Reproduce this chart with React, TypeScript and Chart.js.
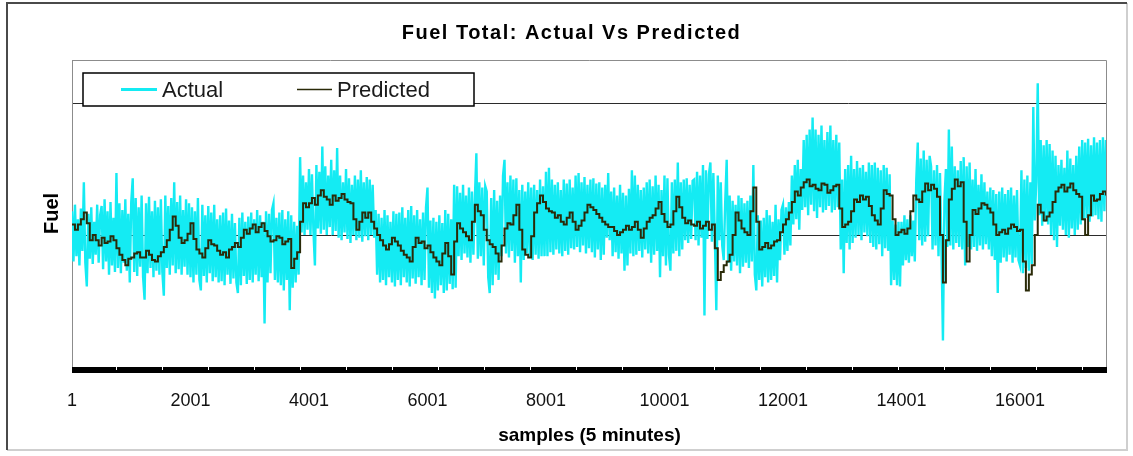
import React, { useEffect, useRef } from "react";
import { Chart, registerables } from "chart.js";

Chart.register(...registerables);

const TITLE = "Fuel Total: Actual Vs Predicted";
const X_TITLE = "samples (5 minutes)";
const Y_TITLE = "Fuel";
const SERIES_NAMES = ["Actual", "Predicted"];
const SAMPLE_COUNT = 17470;
const X_TICKS = [1, 2001, 4001, 6001, 8001, 10001, 12001, 14001, 16001];
const Y_GRID = [0, 100, 200];
const Y_MAX = 232.6;
const ACTUAL_STEP = 25;
const PREDICTED_STEP = 50;

const actualValues = [
  118, 80, 123, 84, 112, 77, 120, 88, 140, 79, 61, 116, 82, 121, 78, 110, 85, 123, 79, 115,
  122, 74, 127, 80, 118, 70, 125, 77, 113, 72, 147, 75, 124, 71, 119, 79, 127, 73, 116, 64,
  125, 143, 72, 128, 69, 121, 76, 130, 68, 51, 124, 71, 129, 75, 118, 68, 126, 73, 121, 70,
  127, 72, 54, 130, 75, 122, 70, 128, 77, 140, 71, 125, 74, 130, 70, 119, 76, 127, 70, 124,
  68, 121, 64, 118, 70, 128, 66, 58, 123, 69, 115, 64, 122, 71, 117, 65, 123, 68, 112, 64,
  115, 65, 117, 62, 120, 70, 111, 63, 116, 67, 109, 64, 56, 113, 62, 117, 69, 110, 63, 114,
  66, 117, 64, 112, 70, 119, 65, 115, 68, 110, 33, 118, 64, 116, 71, 119, 124, 66, 113, 64,
  117, 62, 119, 58, 112, 66, 118, 43, 115, 60, 110, 64, 107, 70, 159, 102, 145, 100, 140, 104,
  150, 100, 146, 103, 77, 153, 105, 148, 101, 167, 104, 152, 100, 145, 106, 157, 100, 149, 103, 166,
  98, 145, 96, 140, 102, 150, 97, 143, 94, 138, 100, 145, 96, 142, 98, 149, 95, 140, 99, 144,
  96, 142, 100, 138, 98, 119, 70, 116, 64, 113, 66, 119, 62, 115, 68, 110, 64, 118, 61, 116,
  66, 117, 62, 121, 68, 113, 64, 119, 61, 122, 67, 115, 63, 119, 68, 112, 62, 117, 66, 121,
  136, 60, 111, 56, 113, 52, 110, 58, 115, 62, 109, 56, 119, 58, 116, 63, 112, 59, 138, 60,
  137, 84, 132, 81, 138, 86, 130, 83, 136, 79, 133, 85, 128, 162, 82, 140, 84, 136, 77, 137,
  133, 68, 56, 128, 62, 134, 70, 126, 66, 130, 84, 145, 157, 86, 140, 83, 145, 88, 142, 79,
  143, 84, 134, 64, 138, 81, 133, 86, 140, 83, 136, 81, 138, 85, 134, 82, 142, 84, 137, 84,
  148, 84, 151, 87, 142, 85, 138, 89, 140, 86, 134, 84, 142, 88, 139, 85, 142, 90, 136, 89,
  145, 91, 147, 87, 140, 92, 144, 86, 138, 90, 142, 87, 143, 83, 139, 89, 140, 81, 136, 85,
  138, 98, 147, 96, 133, 84, 136, 87, 130, 82, 138, 86, 132, 73, 130, 77, 135, 86, 149, 84,
  145, 85, 138, 88, 134, 83, 136, 89, 140, 86, 142, 79, 137, 85, 145, 88, 138, 68, 134, 84,
  145, 77, 143, 85, 73, 140, 86, 142, 88, 155, 84, 140, 89, 142, 96, 143, 94, 138, 97, 141,
  142, 96, 148, 92, 145, 98, 153, 39, 149, 97, 146, 155, 95, 147, 99, 43, 145, 96, 140, 92,
  81, 125, 157, 79, 130, 73, 126, 80, 123, 77, 130, 71, 128, 76, 124, 79, 126, 75, 130, 80,
  153, 70, 58, 115, 66, 111, 61, 113, 68, 119, 64, 115, 66, 110, 69, 123, 64, 112, 81, 119,
  123, 85, 121, 88, 125, 92, 145, 108, 153, 112, 157, 104, 150, 119, 172, 121, 176, 115, 180, 123,
  189, 118, 180, 113, 176, 121, 183, 117, 172, 119, 178, 122, 183, 117, 172, 119, 176, 121, 170, 89,
  142, 71, 150, 94, 153, 89, 160, 94, 150, 98, 156, 100, 151, 96, 153, 102, 148, 99, 155, 94,
  153, 91, 155, 89, 151, 93, 149, 84, 153, 90, 151, 88, 146, 62, 111, 66, 108, 62, 110, 61,
  110, 77, 115, 81, 112, 79, 115, 84, 111, 80, 142, 170, 96, 158, 92, 164, 95, 157, 99, 160,
  152, 89, 149, 92, 153, 84, 147, 91, 20, 126, 150, 91, 180, 92, 167, 89, 152, 94, 149, 91,
  156, 89, 159, 77, 152, 91, 155, 89, 142, 91, 150, 88, 138, 92, 146, 89, 140, 93, 133, 89,
  136, 84, 134, 81, 131, 56, 133, 79, 136, 83, 131, 80, 134, 85, 136, 79, 130, 83, 134, 81,
  77, 149, 71, 142, 75, 145, 73, 140, 78, 197, 111, 140, 215, 115, 172, 107, 168, 110, 172, 108,
  169, 100, 164, 96, 160, 91, 153, 107, 157, 104, 151, 100, 164, 98, 158, 105, 153, 100, 160, 104,
  167, 108, 172, 111, 170, 113, 173, 110, 168, 114, 174, 115, 170, 112, 172, 110, 174, 118, 172, 127,
];

const predictedValues = [
  108, 104, 108, 112, 117, 109, 96, 100, 96, 92, 98, 94, 95, 99, 96, 90, 85, 81, 77, 82,
  83, 86, 87, 83, 83, 88, 85, 81, 80, 84, 87, 91, 96, 104, 114, 107, 98, 94, 96, 101,
  109, 97, 89, 86, 83, 90, 96, 93, 92, 88, 85, 87, 83, 89, 91, 94, 91, 98, 104, 101,
  105, 108, 102, 106, 109, 103, 99, 95, 96, 99, 98, 93, 95, 97, 75, 82, 87, 110, 124, 121,
  124, 128, 123, 130, 134, 129, 127, 123, 130, 126, 128, 131, 127, 125, 124, 112, 104, 110, 117, 113,
  117, 110, 105, 100, 96, 92, 89, 93, 98, 95, 92, 88, 85, 83, 80, 91, 98, 94, 95, 90,
  92, 87, 83, 80, 77, 86, 94, 84, 70, 95, 109, 105, 102, 99, 96, 110, 123, 118, 115, 104,
  96, 93, 91, 86, 80, 92, 105, 109, 108, 115, 123, 104, 89, 85, 83, 99, 117, 124, 130, 125,
  120, 118, 117, 113, 115, 110, 108, 113, 117, 110, 104, 107, 111, 117, 123, 121, 119, 116, 113, 110,
  108, 106, 106, 103, 100, 102, 104, 107, 104, 106, 110, 104, 98, 105, 110, 113, 115, 120, 125, 116,
  110, 106, 108, 118, 129, 121, 113, 109, 111, 108, 107, 110, 105, 107, 110, 104, 108, 90, 66, 72,
  77, 80, 85, 100, 117, 111, 105, 102, 100, 118, 136, 110, 89, 91, 94, 90, 92, 95, 96, 102,
  108, 112, 117, 125, 133, 130, 136, 140, 142, 137, 138, 135, 134, 139, 138, 132, 134, 137, 138, 120,
  106, 108, 110, 118, 127, 125, 130, 127, 129, 122, 115, 111, 108, 120, 134, 131, 130, 112, 100, 102,
  104, 101, 105, 118, 130, 127, 125, 133, 139, 134, 138, 135, 129, 100, 64, 96, 127, 135, 142, 137,
  140, 110, 80, 100, 119, 116, 120, 124, 123, 120, 117, 108, 100, 102, 104, 101, 105, 108, 106, 103,
  104, 80, 58, 70, 77, 100, 123, 117, 111, 114, 117, 125, 133, 136, 138, 133, 136, 139, 134, 131,
  129, 112, 100, 115, 130, 126, 127, 131, 133, 130,
];

const FONT = "'Liberation Sans', Arial, sans-serif";
const ACTUAL_COLOR = "#14EBF3";
const PREDICTED_COLOR = "#2A2A08";

const decor = {
  id: "decor",
  beforeDraw(chart: any) {
    const { ctx, width, height } = chart;
    ctx.save();
    ctx.fillStyle = "#ffffff";
    ctx.fillRect(0, 0, width, height);
    ctx.lineWidth = 2;
    ctx.strokeStyle = "#cfcfcf";
    ctx.beginPath();
    ctx.moveTo(1127, 3);
    ctx.lineTo(1127, 450);
    ctx.lineTo(7, 450);
    ctx.stroke();
    ctx.strokeStyle = "#4a4a4a";
    ctx.beginPath();
    ctx.moveTo(7, 450);
    ctx.lineTo(7, 3);
    ctx.lineTo(1127, 3);
    ctx.stroke();
    ctx.restore();
  },
  afterDraw(chart: any) {
    const { ctx, chartArea: a } = chart;
    ctx.save();
    ctx.strokeStyle = "#8c8c8c";
    ctx.lineWidth = 1;
    ctx.beginPath();
    ctx.moveTo(a.left, a.top + 0.5);
    ctx.lineTo(a.right - 0.5, a.top + 0.5);
    ctx.lineTo(a.right - 0.5, a.bottom);
    ctx.stroke();
    ctx.fillStyle = "#000";
    ctx.fillRect(a.left, a.bottom, a.right - a.left, 6);
    ctx.fillStyle = "#fff";
    for (let x = a.left + 44; x < a.right - 4; x += 46) {
      ctx.fillRect(Math.round(x), a.bottom, 1, 3);
    }
    const lx = a.left + 11;
    const ly = a.top + 13;
    const lw = 391;
    const lh = 33;
    ctx.fillStyle = "#fff";
    ctx.fillRect(lx, ly, lw, lh);
    ctx.strokeStyle = "#000";
    ctx.lineWidth = 1.5;
    ctx.strokeRect(lx, ly, lw, lh);
    const my = ly + lh / 2;
    ctx.lineWidth = 3;
    ctx.strokeStyle = ACTUAL_COLOR;
    ctx.beginPath();
    ctx.moveTo(lx + 38, my);
    ctx.lineTo(lx + 74, my);
    ctx.stroke();
    ctx.lineWidth = 1.5;
    ctx.strokeStyle = PREDICTED_COLOR;
    ctx.beginPath();
    ctx.moveTo(lx + 214, my);
    ctx.lineTo(lx + 249, my);
    ctx.stroke();
    ctx.fillStyle = "#1a1a1a";
    ctx.font = `22px ${FONT}`;
    ctx.textAlign = "left";
    ctx.textBaseline = "middle";
    ctx.fillText(SERIES_NAMES[0], lx + 79, my + 1);
    ctx.fillText(SERIES_NAMES[1], lx + 254, my + 1);
    ctx.fillStyle = "#000";
    ctx.font = `bold 20px ${FONT}`;
    try {
      (ctx as any).letterSpacing = "1.5px";
    } catch (e) {}
    ctx.textAlign = "center";
    ctx.textBaseline = "middle";
    ctx.fillText(TITLE, chart.width / 2 + 5, 33);
    ctx.restore();
  },
};

export default function App() {
  const ref = useRef<HTMLCanvasElement>(null);
  useEffect(() => {
    document.body.style.margin = "0";
    const canvas = ref.current;
    if (!canvas) return;
    const actualData = actualValues.map((v, i) => ({ x: 1 + i * ACTUAL_STEP, y: v }));
    const predictedData = predictedValues.map((v, i) => ({ x: 1 + i * PREDICTED_STEP, y: v }));
    const chart = new Chart(canvas, {
      type: "line",
      data: {
        datasets: [
          {
            label: SERIES_NAMES[0],
            data: actualData,
            borderColor: ACTUAL_COLOR,
            backgroundColor: ACTUAL_COLOR,
            borderWidth: 2.4,
            pointRadius: 0,
            tension: 0,
            order: 1,
          },
          {
            label: SERIES_NAMES[1],
            data: predictedData,
            borderColor: PREDICTED_COLOR,
            backgroundColor: PREDICTED_COLOR,
            borderWidth: 2,
            pointRadius: 0,
            stepped: true,
            order: 0,
          },
        ],
      },
      options: {
        animation: false,
        responsive: false,
        devicePixelRatio: 1,
        layout: { padding: { top: 60, right: 26, bottom: 0, left: 0 } },
        plugins: {
          legend: { display: false },
          title: { display: false },
          tooltip: { enabled: false },
        },
        scales: {
          x: {
            type: "linear",
            min: 1,
            max: SAMPLE_COUNT,
            afterBuildTicks: (s: any) => {
              s.ticks = X_TICKS.map((v) => ({ value: v }));
            },
            afterFit: (s: any) => {
              s.height = 89;
            },
            grid: {
              display: true,
              drawOnChartArea: false,
              drawTicks: true,
              tickLength: 6,
              tickColor: "rgba(0,0,0,0)",
            },
            border: { display: false },
            ticks: {
              autoSkip: false,
              maxRotation: 0,
              padding: 17,
              color: "#111",
              font: { family: FONT, size: 18 },
              callback: (v: any) => String(v),
            },
            title: {
              display: true,
              text: X_TITLE,
              color: "#000",
              font: { family: FONT, size: 19, weight: "bold" },
              padding: { top: 0, bottom: 9 },
            },
          },
          y: {
            min: 0,
            max: Y_MAX,
            afterBuildTicks: (s: any) => {
              s.ticks = Y_GRID.map((v) => ({ value: v }));
            },
            afterFit: (s: any) => {
              s.width = 72;
            },
            ticks: { display: false },
            grid: {
              color: (c: any) => (c.tick && c.tick.value === 0 ? "rgba(0,0,0,0)" : "#2b2b2b"),
              lineWidth: 1,
              drawTicks: false,
            },
            border: { display: true, color: "#8c8c8c", width: 1 },
            title: {
              display: true,
              text: Y_TITLE,
              color: "#000",
              font: { family: FONT, size: 20, weight: "bold" },
              padding: { top: 40, bottom: 0 },
            },
          },
        },
      },
      plugins: [decor],
    } as any);
    return () => chart.destroy();
  }, []);
  return (
    <div style={{ width: 1133, height: 456 }}>
      <canvas ref={ref} width={1133} height={456} style={{ display: "block" }} />
    </div>
  );
}
